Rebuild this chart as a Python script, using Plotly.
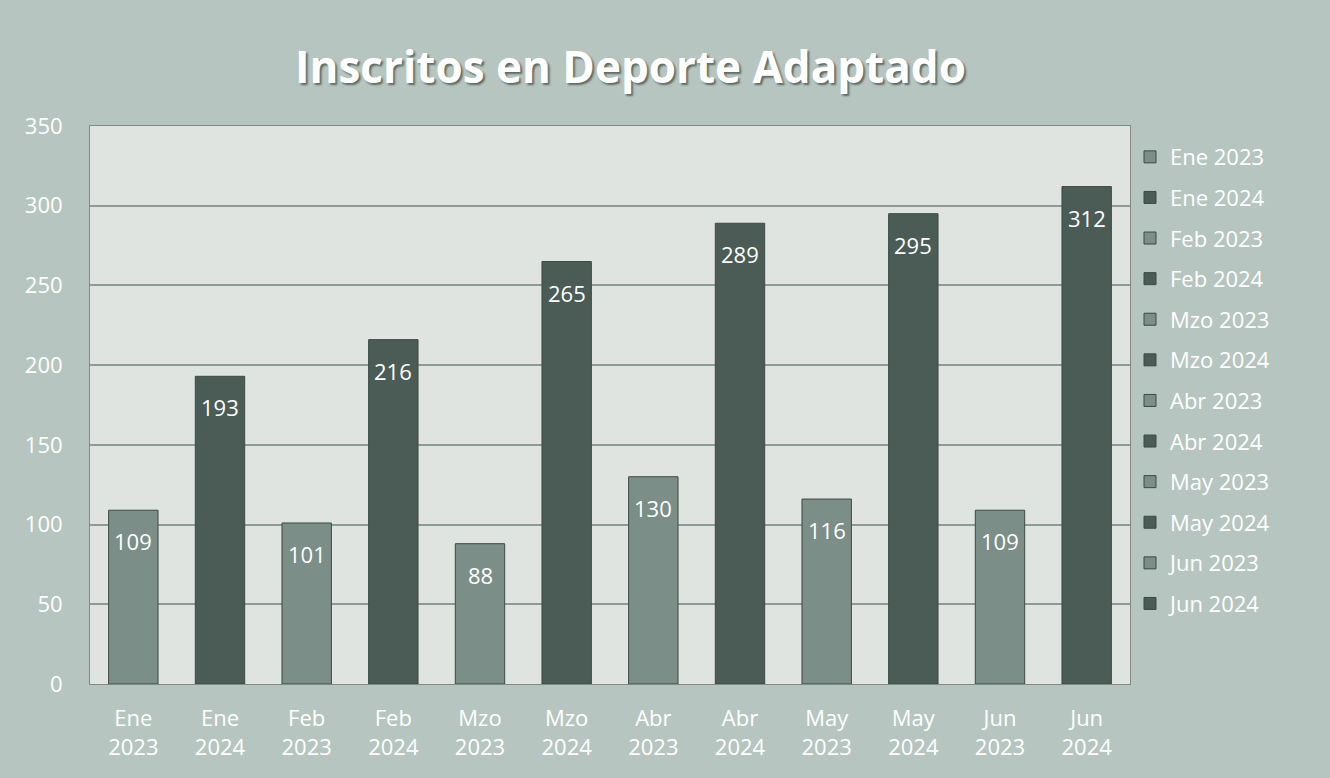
import plotly.graph_objects as go

# Monthly enrolment in adapted sports, 2023 vs 2024
meses = ["Ene", "Ene", "Feb", "Feb", "Mzo", "Mzo", "Abr", "Abr", "May", "May", "Jun", "Jun"]
anios = ["2023", "2024", "2023", "2024", "2023", "2024", "2023", "2024", "2023", "2024", "2023", "2024"]
inscritos = [109, 193, 101, 216, 88, 265, 130, 289, 116, 295, 109, 312]

color_2023 = "#7b8e87"
color_2024 = "#4b5c56"
fuente = "Open Sans"

fig = go.Figure()
for i, (mes, anio, valor) in enumerate(zip(meses, anios, inscritos)):
    categoria = f"{mes}<br>{anio}"
    color = color_2023 if anio == "2023" else color_2024
    fig.add_trace(go.Bar(
        x=[categoria],
        y=[valor],
        name=f"{mes} {anio}",
        legendgroup=f"g{i}",
        marker=dict(color=color, line=dict(color="#3b4a44", width=1)),
        width=0.57,
    ))
    # value label placed just inside the top of each bar
    fig.add_annotation(
        x=categoria, y=valor, text=str(valor),
        showarrow=False, yanchor="middle", yshift=-31,
        font=dict(color="white", size=22, family=fuente),
    )

fig.update_layout(
    width=1330, height=778,
    barmode="overlay",
    paper_bgcolor="#b7c5c0",
    plot_bgcolor="#dfe4e1",
    margin=dict(l=90, r=200, t=126, b=94),
    title=dict(
        text="<b>Inscritos en Deporte Adaptado</b>",
        x=0.474, xanchor="center", y=0.913, yanchor="middle",
        font=dict(size=44, color="white", family=fuente,
                  shadow="2px 2px 2px #5d6b66"),
    ),
    font=dict(family=fuente, color="white", size=22),
    legend=dict(
        x=1.0, xanchor="left", y=0.982, yanchor="top",
        font=dict(size=22, color="white"),
        bgcolor="rgba(0,0,0,0)",
        traceorder="grouped",
        itemwidth=30,
        tracegroupgap=9,
    ),
    xaxis=dict(
        showgrid=False,
        showline=True, linecolor="#7e8c86", linewidth=1, mirror=True,
        tickfont=dict(size=22, color="white"),
        ticks="", ticklabelstandoff=15,
    ),
    yaxis=dict(
        range=[0, 350], dtick=50,
        showgrid=True, gridcolor="#8d9b96", gridwidth=1.5,
        showline=True, linecolor="#7e8c86", linewidth=1, mirror=True,
        zeroline=False,
        tickfont=dict(size=22, color="white"),
        ticks="", ticklabelstandoff=22,
    ),
)

fig.write_html("out.html")
